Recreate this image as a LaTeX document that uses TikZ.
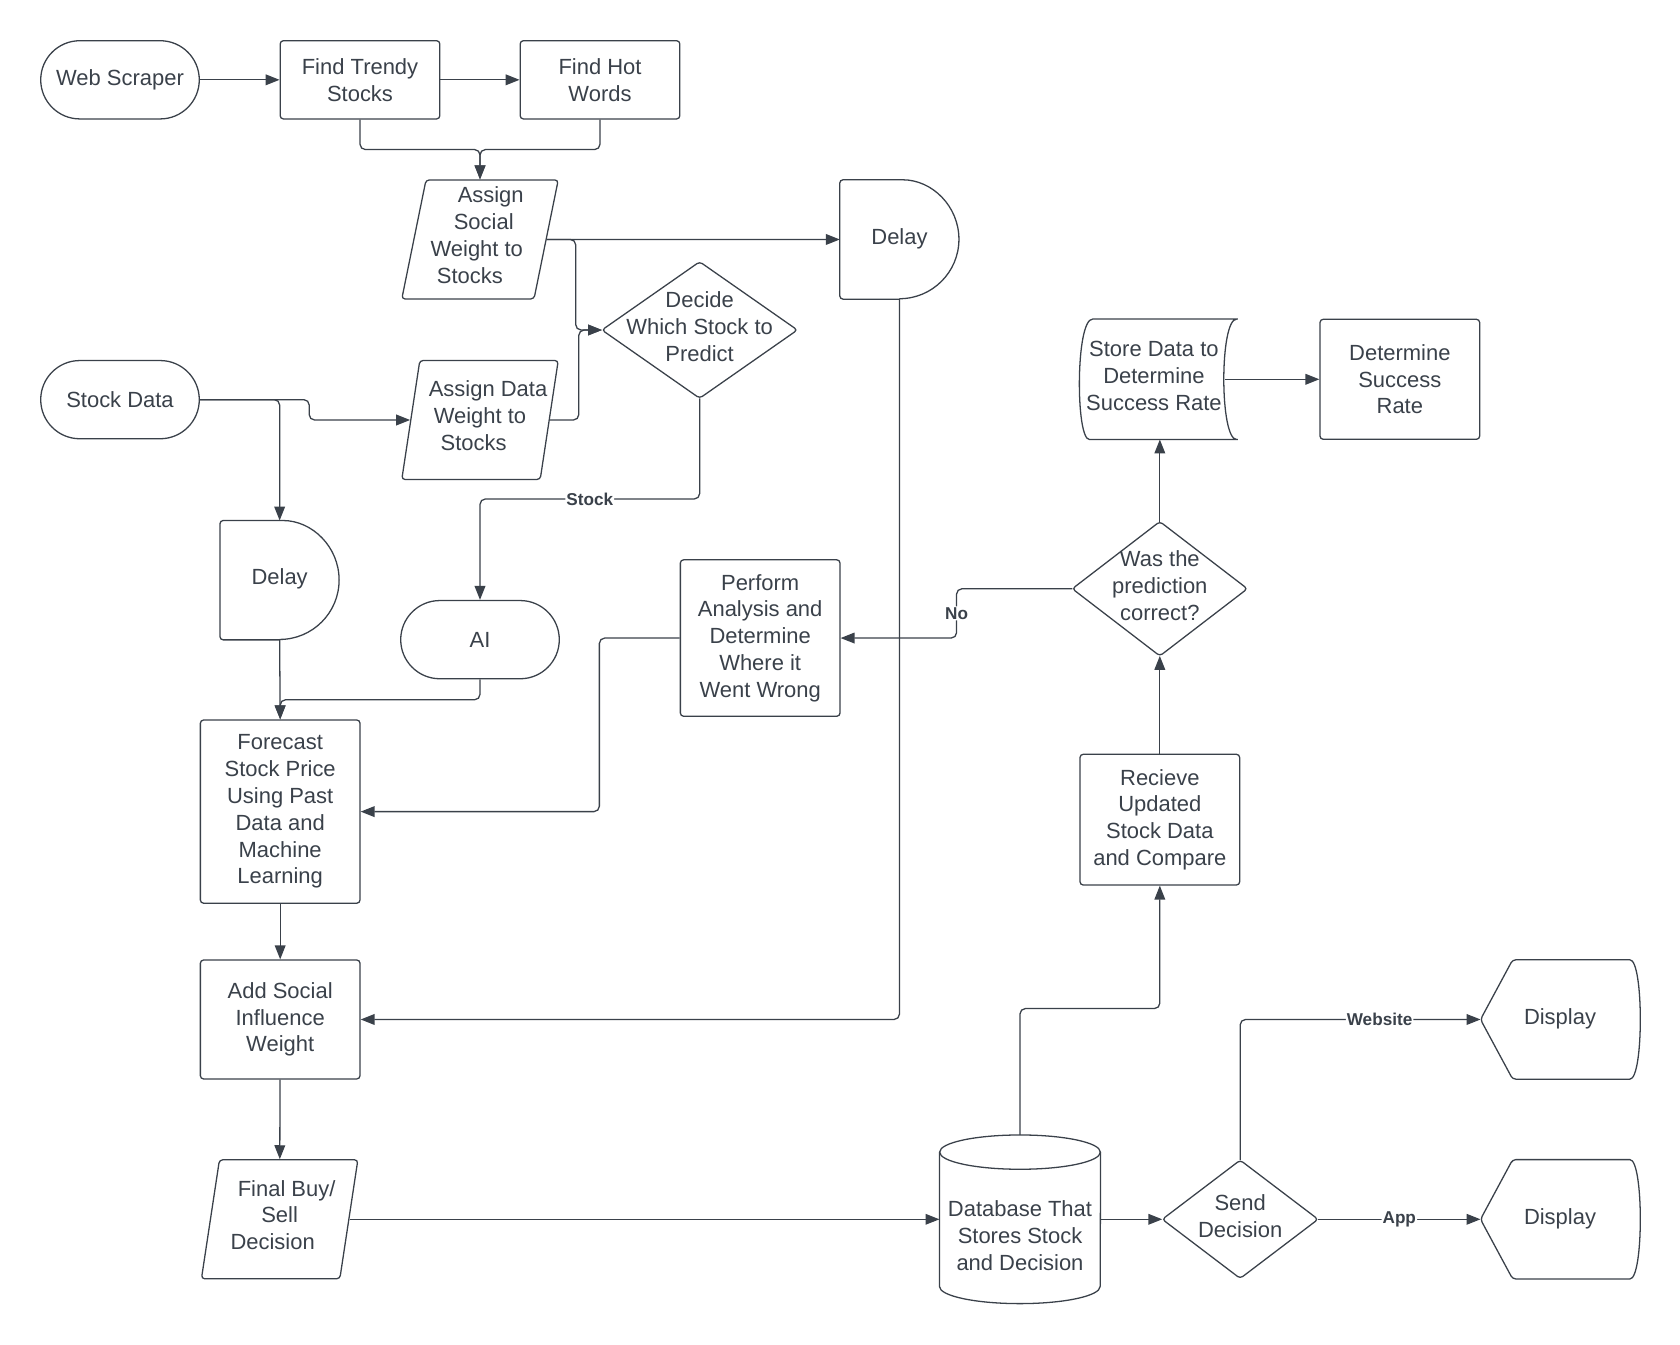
\documentclass[tikz,border=0pt]{standalone}
\usepackage{fontspec}
\setmainfont{Liberation Sans}
\usepackage{tikz}
\usetikzlibrary{arrows.meta,shapes.geometric}

\definecolor{lucid}{HTML}{3A414A}
\newcommand{\ioline}[2]{\makebox[0pt]{\hspace{#1}#2}}

\tikzset{
  base/.style={font=\fontsize{20.5}{25}\selectfont, text=lucid, align=center, inner sep=0pt},
  process/.style={base, draw=lucid, line width=1.2pt, rectangle, rounded corners=3pt, minimum width=149pt},
  terminal/.style={base, draw=lucid, line width=1.2pt, rectangle, rounded corners=36.5pt, minimum width=148pt, minimum height=73pt},
  iobox/.style={base, draw=lucid, line width=1.2pt, trapezium, trapezium left angle=77, trapezium right angle=103,
    trapezium stretches body, minimum width=146pt, minimum height=111pt, rounded corners=3pt, text depth=8pt},
  holder/.style 2 args={base, minimum width=#1, minimum height=#2, text depth=6pt},
  outline/.style={draw=lucid, line width=1.2pt, rounded corners=3pt},
  flow/.style={draw=lucid, line width=1.2pt, rounded corners=5pt, -{Triangle[length=13pt, width=10pt]}},
  tag/.style={font=\bfseries\fontsize{16}{18}\selectfont, text=lucid, fill=white, inner sep=1pt},
}

\begin{document}
\begin{tikzpicture}[x=1pt, y=-1pt]
  \useasboundingbox (0,0) rectangle (1568,1255);

  % nodes
  \node[terminal] (scraper) at (112,74.5) {Web Scraper};
  \node[process, minimum height=73pt] (trendy) at (336,74.5) {Find Trendy\\Stocks};
  \node[process, minimum height=73pt] (hot) at (560,74.5) {Find Hot\\Words};
  \node[iobox] (social) at (448,223.5) {\ioline{20pt}{Assign}\\\ioline{7pt}{Social}\\\ioline{-6pt}{Weight to}\\\ioline{-19pt}{Stocks}};
  \node[holder={111pt}{111pt}] (delayA) at (839.5,223.5) {Delay};
  \node[holder={182pt}{127pt}] (decide) at (653,308) {Decide\\Which Stock to\\Predict};
  \node[terminal] (stockdata) at (112,373) {Stock Data};
  \node[iobox] (dataw) at (448,392) {\ioline{15pt}{Assign Data}\\\ioline{0pt}{Weight to}\\\ioline{-12pt}{Stocks}};
  \node[holder={111pt}{111pt}] (delayB) at (261,541.5) {Delay};
  \node[terminal] (ai) at (448,597) {AI};
  \node[process, minimum height=146pt] (analysis) at (709.5,595.5) {Perform\\Analysis and\\Determine\\Where it\\Went Wrong};
  \node[process, minimum height=171pt] (forecast) at (261.5,757.5) {Forecast\\Stock Price\\Using Past\\Data and\\Machine\\Learning};
  \node[process, minimum height=111pt] (influence) at (261.5,951.5) {Add Social\\Influence\\Weight};
  \node[iobox] (final) at (261,1138) {\ioline{13pt}{Final Buy/}\\\ioline{0pt}{Sell}\\\ioline{-13pt}{Decision}};
  \node[holder={150pt}{125pt}, text depth=2pt] (db) at (952,1154) {Database That\\Stores Stock\\and Decision};
  \node[holder={145pt}{110pt}] (send) at (1157.5,1138) {Send\\Decision};
  \node[holder={148pt}{111pt}] (web) at (1456,951.5) {Display};
  \node[holder={148pt}{111pt}] (app) at (1456,1138) {Display};
  \node[process, minimum height=122pt] (receive) at (1082.5,765) {Recieve\\Updated\\Stock Data\\and Compare};
  \node[holder={163pt}{125pt}] (correct) at (1082.5,549.5) {Was the\\prediction\\correct?};
  \node[holder={149pt}{112pt}] (store) at (1082.5,354) {\ioline{-11pt}{Store Data to}\\\ioline{-11pt}{Determine}\\\ioline{-11pt}{Success Rate}};
  \node[process, minimum height=112pt] (rate) at (1306.5,354) {Determine\\Success\\Rate};

  % shapes
  \foreach \n in {delayA,delayB}
    \draw[outline] (\n.south) -- (\n.south west) -- (\n.north west) -- (\n.north) arc[start angle=90, end angle=-90, radius=55.5pt];
  \foreach \n in {decide,correct,send}
    \draw[outline] (\n.north) -- (\n.east) -- (\n.south) -- (\n.west) -- cycle;
  \foreach \n in {web,app}
    \draw[outline] (\n.west) -- ([xshift=30pt]\n.north west) -- ([xshift=-12pt]\n.north east)
      .. controls ([xshift=4pt]\n.north east) and ([xshift=4pt]\n.south east) .. ([xshift=-12pt]\n.south east)
      -- ([xshift=30pt]\n.south west) -- cycle;
  \draw[outline] ([xshift=12pt]store.north west) -- (store.north east)
    .. controls ([xshift=-19pt]store.north east) and ([xshift=-19pt]store.south east) .. (store.south east)
    -- ([xshift=12pt]store.south west)
    .. controls ([xshift=-4pt]store.south west) and ([xshift=-4pt]store.north west) .. ([xshift=12pt]store.north west);
  \draw[outline, sharp corners] ([yshift=16pt]db.north west) -- ([yshift=16pt]db.south west)
    arc[start angle=180, end angle=360, x radius=75pt, y radius=16pt] -- ([yshift=16pt]db.north east);
  \draw[outline] ([yshift=16pt]db.north) ellipse [x radius=75pt, y radius=16pt];

  % connectors
  \draw[flow] (scraper) -- (trendy);
  \draw[flow] (trendy) -- (hot);
  \draw[flow] (trendy.south) -- ++(0,28) -| (social.north);
  \draw[flow] (hot.south) -- ++(0,28) -| (social.north);
  \draw[flow] (social.east) -- (delayA.west);
  \draw[flow] (social.east) -- ++(27,0) |- (decide.west);
  \draw[flow] (dataw.east) -- ++(27,0) |- (decide.west);
  \draw[flow] (stockdata.east) -- ++(102,0) |- (dataw.west);
  \draw[flow] (stockdata.east) -| (delayB.north);
  \draw[flow] (decide.south) -- ++(0,94) -| node[tag, pos=0.25] {Stock} (ai.north);
  \draw[flow] (delayB.south) -- (forecast.north);
  \draw[flow] (ai.south) -- ++(0,19) -| (forecast.north);
  \draw[flow] (analysis.west) -- ++(-75,0) |- (forecast.east);
  \draw[flow] (forecast) -- (influence);
  \draw[flow] (delayA.south) |- (influence.east);
  \draw[flow] (influence) -- (final);
  \draw[flow] (final.east) -- (final.east -| db.west);
  \draw[flow] (send.west -| db.east) -- (send.west);
  \draw[flow] ([yshift=32pt]db.north) -- ++(0,-118) -| (receive.south);
  \draw[flow] (receive) -- (correct.south);
  \draw[flow] (correct.north) -- (store.south);
  \draw[flow] ([xshift=-14pt]store.east) -- (rate.west);
  \draw[flow] (correct.west) -- ++(-108,0) |- node[tag, pos=0.25] {No} (analysis.east);
  \draw[flow] (send.north) |- node[tag, pos=0.79] {Website} (web.west);
  \draw[flow] (send.east) -- node[tag] {App} (app.west);
\end{tikzpicture}
\end{document}
